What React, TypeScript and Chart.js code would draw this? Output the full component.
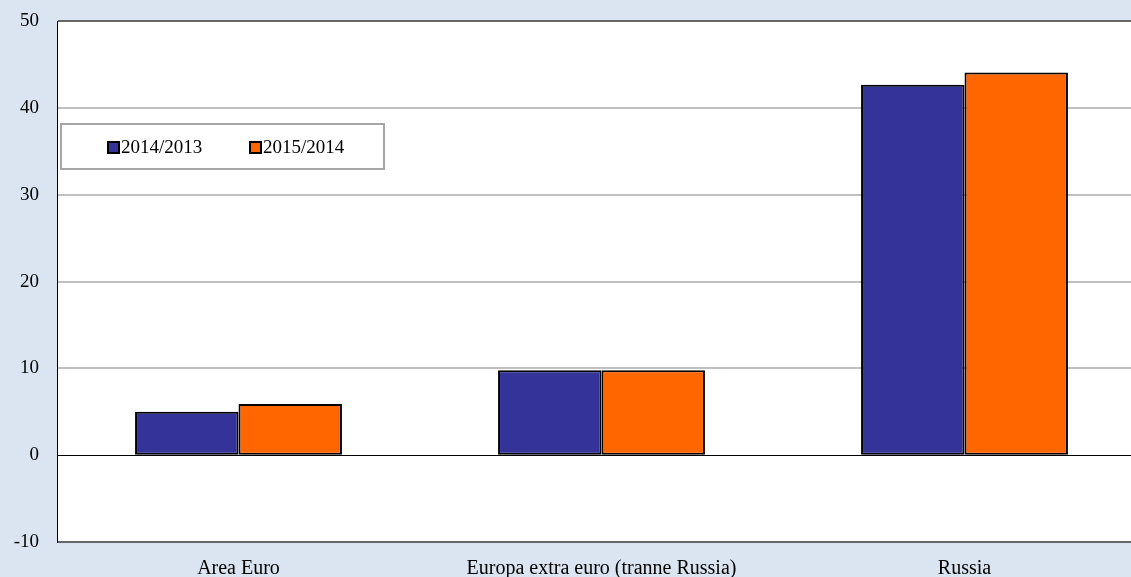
import React, { useEffect, useRef } from "react";
import { Chart, registerables } from "chart.js";

Chart.register(...registerables);

const categories = ["Area Euro", "Europa extra euro (tranne Russia)", "Russia"];
const series2014 = [5.0, 9.8, 42.7];
const series2015 = [5.9, 9.8, 44.1];
const seriesLabels = ["2014/2013", "2015/2014"];
const yMin = -10;
const yMax = 50;
const yStep = 10;

const BG = "#dbe5f1";
const BLUE = "#333399";
const ORANGE = "#ff6600";
const FONT = "'Liberation Serif', 'DejaVu Serif', serif";
const OFFSET_Y = 8;

const framePlugin = {
  id: "frame",
  beforeDraw(chart: any) {
    const { ctx, chartArea, width, height } = chart;
    ctx.save();
    ctx.fillStyle = BG;
    ctx.fillRect(0, 0, width, height);
    ctx.fillStyle = "#ffffff";
    ctx.fillRect(chartArea.left, chartArea.top, chartArea.right - chartArea.left, chartArea.bottom - chartArea.top);
    ctx.restore();
  },
  afterDraw(chart: any) {
    const { ctx, chartArea } = chart;
    ctx.save();
    const x = chartArea.left + 4;
    const y = 124 + OFFSET_Y;
    const w = 323;
    const h = 45;
    ctx.fillStyle = "#ffffff";
    ctx.fillRect(x, y, w, h);
    ctx.strokeStyle = "#a6a6a6";
    ctx.lineWidth = 2;
    ctx.strokeRect(x, y, w, h);
    const items = [
      { label: chart.data.datasets[0].label, color: BLUE, sx: 108 },
      { label: chart.data.datasets[1].label, color: ORANGE, sx: 250 },
    ];
    ctx.font = "19px " + FONT;
    ctx.textBaseline = "middle";
    ctx.textAlign = "left";
    for (const it of items) {
      ctx.fillStyle = it.color;
      ctx.fillRect(it.sx, 142 + OFFSET_Y, 11, 11);
      ctx.strokeStyle = "#000";
      ctx.lineWidth = 2;
      ctx.strokeRect(it.sx, 142 + OFFSET_Y, 11, 11);
      ctx.fillStyle = "#000";
      ctx.fillText(it.label, it.sx + 13, 148 + OFFSET_Y);
    }
    ctx.restore();
  },
};

export default function App() {
  const ref = useRef<HTMLCanvasElement | null>(null);
  useEffect(() => {
    if (!ref.current) return;
    const chart = new Chart(ref.current, {
      type: "bar",
      data: {
        labels: categories,
        datasets: [
          {
            label: seriesLabels[0],
            data: series2014,
            backgroundColor: BLUE,
            borderColor: "#000",
            borderWidth: 2,
            borderSkipped: false,
            categoryPercentage: 0.57,
            barPercentage: 1.0,
          },
          {
            label: seriesLabels[1],
            data: series2015,
            backgroundColor: ORANGE,
            borderColor: "#000",
            borderWidth: 2,
            borderSkipped: false,
            categoryPercentage: 0.57,
            barPercentage: 1.0,
          },
        ],
      },
      options: {
        animation: false,
        responsive: false,
        maintainAspectRatio: false,
        layout: { padding: { top: 14, right: 0, bottom: 0, left: 0 } },
        plugins: {
          legend: { display: false },
          tooltip: { enabled: false },
        },
        scales: {
          x: {
            grid: { display: false, drawTicks: false },
            border: { display: false },
            ticks: {
              color: "#000",
              font: { family: FONT, size: 20 },
              padding: 15,
              maxRotation: 0,
            },
            afterFit(scale: any) {
              scale.height = 35;
            },
          },
          y: {
            min: yMin,
            max: yMax,
            ticks: {
              stepSize: yStep,
              color: "#000",
              font: { family: FONT, size: 19 },
              padding: 18,
            },
            grid: {
              drawTicks: false,
              color: (c: any) => {
                const v = c.tick && c.tick.value;
                if (v === 0) return "#000";
                if (v === yMin || v === yMax) return "#666666";
                return "#c0c0c0";
              },
              lineWidth: (c: any) => {
                const v = c.tick && c.tick.value;
                if (v === 0) return 1;
                return 2;
              },
            },
            border: { display: true, color: "#000", width: 1 },
            afterFit(scale: any) {
              scale.width = 57;
            },
          },
        },
      },
      plugins: [framePlugin],
    });
    return () => chart.destroy();
  }, []);
  return (
    <div style={{ position: "fixed", left: 0, top: 0, width: 1131, height: 577, background: BG, overflow: "hidden" }}>
      <canvas
        ref={ref}
        width={1146}
        height={577 + OFFSET_Y}
        style={{ display: "block", position: "absolute", left: 0, top: -OFFSET_Y }}
      />
    </div>
  );
}
